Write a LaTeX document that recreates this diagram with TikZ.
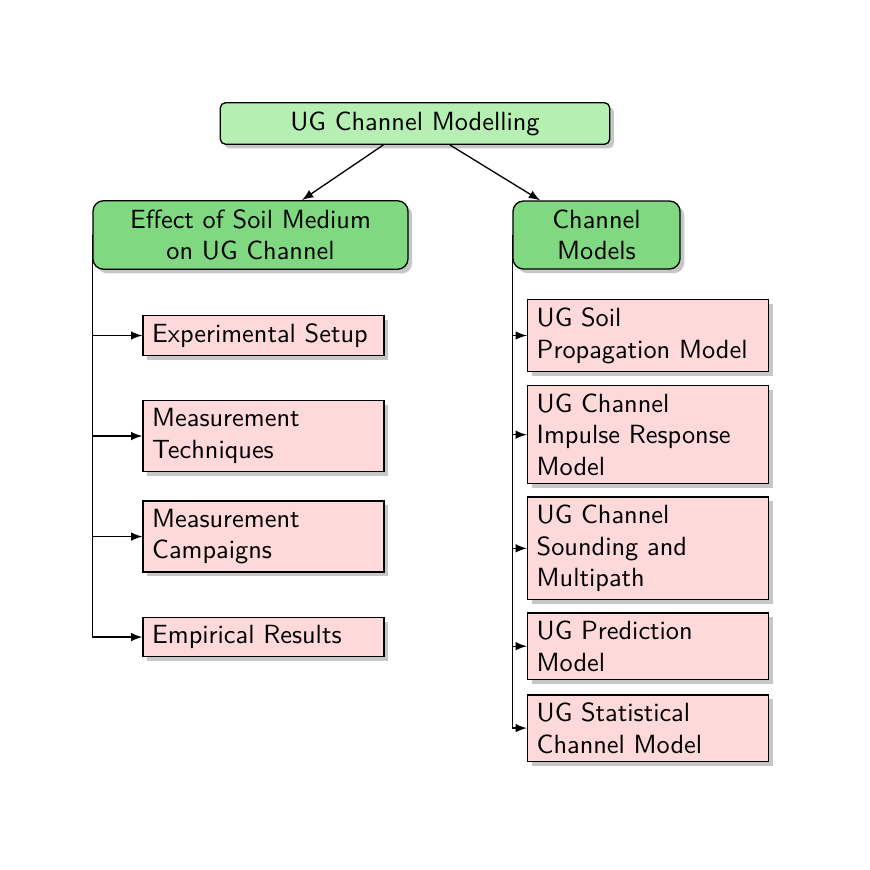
\documentclass[tikz,border=0pt]{standalone}
\usepackage{xcolor}
\usepackage{tikz}
\usetikzlibrary{positioning}
\usetikzlibrary{arrows,shadows}

\definecolor{rootgreen}{RGB}{181,240,178}
\definecolor{catgreen}{RGB}{128,217,128}
\definecolor{itempink}{RGB}{253,217,217}

\begin{document}
\begin{tikzpicture}[x=0.38pt,y=0.38pt,line width=0.5pt,
		boxshadow/.style={drop shadow={shadow xshift=1.6pt,shadow yshift=-1.6pt,fill=black!22,opacity=1}},
		rootbox/.style={draw,fill=rootgreen,rounded corners=2pt,boxshadow,font=\sffamily,minimum width=148pt,minimum height=15.6pt},
		catbox/.style={draw,fill=catgreen,rounded corners=4pt,boxshadow,font=\sffamily,align=center,minimum height=25pt},
		itembox/.style={draw,fill=itempink,boxshadow,font=\sffamily,text width=84.6pt,inner xsep=3.5pt,inner ysep=3pt,align=left}]
		\useasboundingbox (0,0) rectangle (870,-870);
		
		\node[rootbox] (ugcm) at (415,-123.5) {UG Channel Modelling};
		\node[catbox,minimum width=119.7pt] (soil) at (250.5,-235) {Effect of Soil Medium\\on UG Channel};
		\node[catbox,minimum width=63.5pt] (chm) at (596.5,-235) {Channel\\Models};
		
		\node[itembox] (setup) at (263.5,-335.5) {Experimental Setup};
		\node[itembox] (tech) [on grid, below = 38.2pt of setup] {Measurement\\Techniques};
		\node[itembox] (camp) [on grid, below = 38.2pt of tech] {Measurement\\Campaigns};
		\node[itembox] (emp) [on grid, below = 38.2pt of camp] {Empirical Results};
		
		\node[itembox] (prop) at (648,-335.5) {UG Soil\\Propagation Model};
		\node[itembox] (imp) [below = 5pt of prop] {UG Channel\\Impulse Response\\Model};
		\node[itembox] (sound) [below = 4.6pt of imp] {UG Channel\\Sounding and\\Multipath};
		\node[itembox] (pred) [below = 4.6pt of sound] {UG Prediction\\Model};
		\node[itembox] (stat) [below = 5.4pt of pred] {UG Statistical\\Channel Model};
		
		\draw[-latex] (ugcm) -- (soil);
		\draw[-latex] (ugcm) -- (chm);
		
		\draw[-latex] (soil.west) |- (setup.west);
		\draw[-latex] (soil.west) |- (tech.west);
		\draw[-latex] (soil.west) |- (camp.west);
		\draw[-latex] (soil.west) |- (emp.west);
		
		\draw[-latex] (chm.west) |- (prop.west);
		\draw[-latex] (chm.west) |- (imp.west);
		\draw[-latex] (chm.west) |- (sound.west);
		\draw[-latex] (chm.west) |- (pred.west);
		\draw[-latex] (chm.west) |- (stat.west);
	\end{tikzpicture}
\end{document}
